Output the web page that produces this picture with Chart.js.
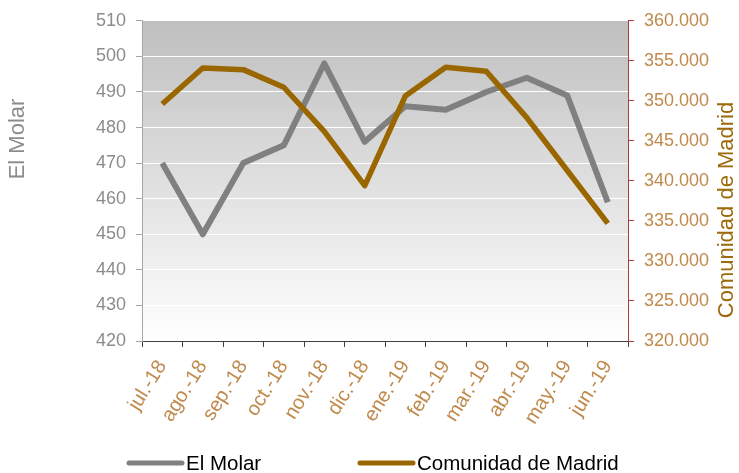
<!DOCTYPE html>
<html>
<head>
<meta charset="utf-8">
<script src="https://cdn.jsdelivr.net/npm/chart.js@4.4.1/dist/chart.umd.min.js"></script>
<style>
  body { margin: 0; background: #fff; }
  #wrap { width: 739px; height: 473px; }
</style>
</head>
<body>
<div id="wrap"><canvas id="chart_molar" width="739" height="473"></canvas></div>
<script>
'use strict'
// Data
const labels = ['jul.-18', 'ago.-18', 'sep.-18', 'oct.-18', 'nov.-18', 'dic.-18',
    'ene.-19', 'feb.-19', 'mar.-19', 'abr.-19', 'may.-19', 'jun.-19'];
const elMolar = [470, 450, 470, 475, 498, 476, 486, 485, 490, 494, 489, 459];
const comunidadMadrid = [349600, 354100, 353900, 351700, 346200, 339400,
    350600, 354200, 353700, 347900, 341300, 334700];

const FONT = "'Liberation Sans', Arial, sans-serif";
const GREY = '#808080';
const BROWN = '#996600';
const TAN = '#bf8a4c';

function thousands(v) {
    return String(v).replace(/\B(?=(\d{3})+(?!\d))/g, '.');
}

// plot area gradient, dark at top to white at bottom
let backgroundPlugin = {
    id: 'plotBackground',
    beforeDraw: function (chart) {
        let ctx = chart.ctx;
        let a = chart.chartArea;
        let g = ctx.createLinearGradient(0, a.top, 0, a.bottom);
        g.addColorStop(0, '#bfbfbf');
        g.addColorStop(1, '#ffffff');
        ctx.save();
        ctx.fillStyle = g;
        ctx.fillRect(a.left, a.top, a.right - a.left, a.bottom - a.top);
        ctx.restore();
    },
};

// axis titles (both read bottom-to-top) and the legend row
let decorPlugin = {
    id: 'decor',
    afterDraw: function (chart) {
        let ctx = chart.ctx;
        ctx.save();
        ctx.textAlign = 'center';
        ctx.textBaseline = 'middle';

        ctx.save();
        ctx.translate(18, 139);
        ctx.rotate(-Math.PI / 2);
        ctx.font = '22px ' + FONT;
        ctx.fillStyle = '#8c8c8c';
        ctx.fillText(chart.options.scales.y.title.text, 0, 0);
        ctx.restore();

        ctx.save();
        ctx.translate(727, 210);
        ctx.rotate(-Math.PI / 2);
        ctx.font = '22px ' + FONT;
        ctx.fillStyle = '#9c6a0a';
        ctx.fillText(chart.options.scales.y1.title.text, 0, 0);
        ctx.restore();

        // legend
        let items = [{x: 129, len: 53}, {x: 360, len: 53}];
        ctx.font = '20.5px ' + FONT;
        ctx.textAlign = 'left';
        chart.data.datasets.forEach(function (ds, i) {
            let it = items[i];
            let y = 463;
            ctx.strokeStyle = ds.borderColor;
            ctx.lineWidth = 5;
            ctx.lineCap = 'round';
            ctx.beginPath();
            ctx.moveTo(it.x, y);
            ctx.lineTo(it.x + it.len, y);
            ctx.stroke();
            ctx.fillStyle = '#000';
            ctx.fillText(ds.label, it.x + it.len + 4, y + 1);
        });
        ctx.restore();
    },
};

let chart = new Chart('chart_molar', {
    type: 'line',
    data: {
        labels: labels,
        datasets: [
            {
                label: 'El Molar',
                data: elMolar,
                yAxisID: 'y',
                borderColor: GREY,
                backgroundColor: GREY,
                borderWidth: 6,
                pointRadius: 0,
                tension: 0,
                borderJoinStyle: 'round',
                order: 2,
            },
            {
                label: 'Comunidad de Madrid',
                data: comunidadMadrid,
                yAxisID: 'y1',
                borderColor: BROWN,
                backgroundColor: BROWN,
                borderWidth: 5.5,
                pointRadius: 0,
                tension: 0,
                borderJoinStyle: 'round',
                order: 1,
            },
        ],
    },
    options: {
        responsive: false,
        animation: false,
        layout: {
            padding: {top: 20, left: 0, right: 0, bottom: 32},
        },
        plugins: {
            legend: {display: false},
            tooltip: {enabled: false},
        },
        scales: {
            x: {
                offset: true,
                grid: {
                    offset: true,
                    drawOnChartArea: false,
                    tickLength: 6,
                    tickColor: '#404040',
                },
                border: {color: '#404040', width: 1},
                ticks: {
                    color: TAN,
                    font: {family: FONT, size: 20},
                    minRotation: 58,
                    maxRotation: 58,
                    padding: 9,
                    autoSkip: false,
                },
                afterFit: function (scale) {
                    scale.height = 100;
                },
            },
            y: {
                position: 'left',
                min: 420,
                max: 510,
                title: {display: false, text: 'El Molar'},
                grid: {
                    color: '#ffffff',
                    tickColor: '#a6a6a6',
                    tickLength: 6,
                },
                border: {color: '#a6a6a6', width: 1},
                ticks: {
                    stepSize: 10,
                    color: '#8c8c8c',
                    font: {family: FONT, size: 18},
                    padding: 10,
                },
                afterFit: function (scale) {
                    scale.width = 142;
                },
            },
            y1: {
                position: 'right',
                min: 320000,
                max: 360000,
                title: {display: false, text: 'Comunidad de Madrid'},
                grid: {
                    drawOnChartArea: false,
                    tickColor: '#b03a3a',
                    tickLength: 6,
                },
                border: {color: '#b03a3a', width: 1},
                ticks: {
                    stepSize: 5000,
                    color: TAN,
                    font: {family: FONT, size: 18},
                    padding: 10,
                    callback: function (v) {
                        return thousands(v);
                    },
                },
                afterFit: function (scale) {
                    scale.width = 111;
                },
            },
        },
    },
    plugins: [backgroundPlugin, decorPlugin],
});
</script>
</body>
</html>
